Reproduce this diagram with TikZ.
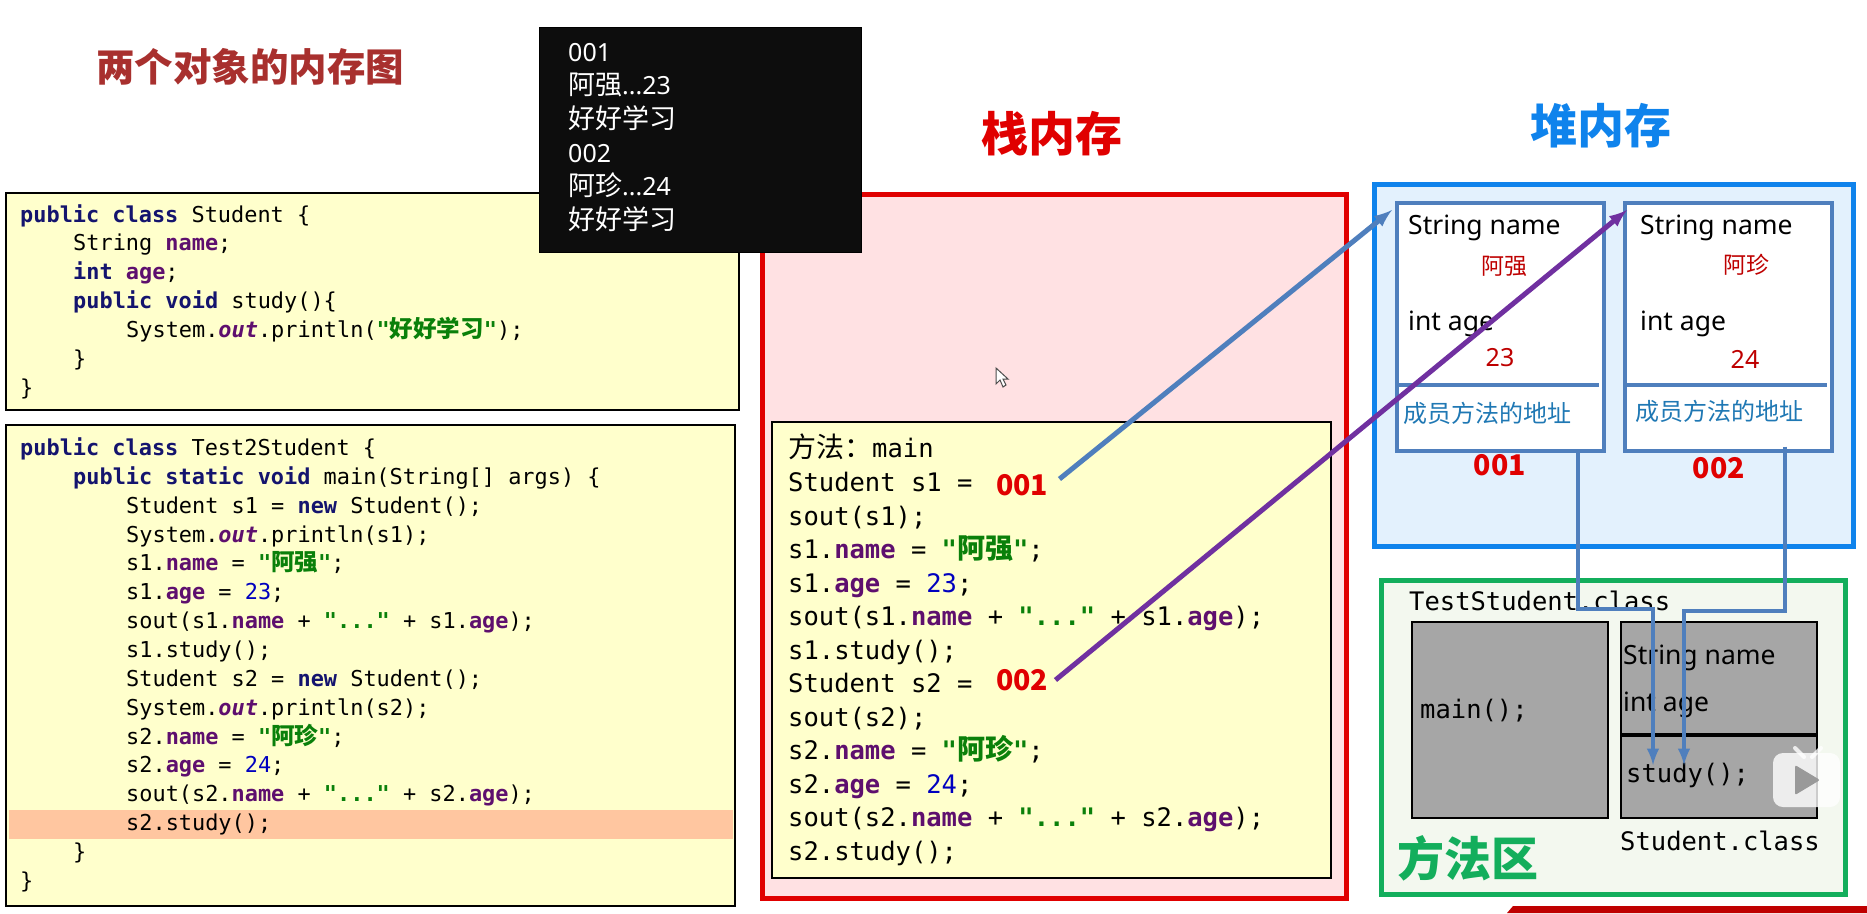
\documentclass[tikz,border=0pt]{standalone}
\usepackage{fontspec}
\setmainfont{Noto Sans}
\setmonofont{DejaVu Sans Mono}
\newfontfamily\cjk{Noto Sans CJK SC}
\definecolor{codebg}{HTML}{FFFFCC}
\definecolor{stackred}{HTML}{E00000}
\definecolor{stackbg}{HTML}{FFE1E3}
\definecolor{heapblue}{HTML}{0F83EC}
\definecolor{heapbg}{HTML}{E3F1FD}
\definecolor{areagreen}{HTML}{13AE5C}
\definecolor{areabg}{HTML}{F3F8EF}
\definecolor{linkblue}{HTML}{4F7FBD}
\definecolor{ptrpurple}{HTML}{7030A0}
\definecolor{kwdblue}{HTML}{14146E}
\definecolor{fldpurple}{HTML}{5E0F6E}
\definecolor{strgreen}{HTML}{0A800A}
\definecolor{addrblue}{HTML}{1F78B4}
\definecolor{rowmark}{HTML}{FFC6A0}
\definecolor{titlered}{HTML}{A8302E}
\newcommand\cn[2]{{\cjk\fontsize{#1}{#1}\selectfont #2}}
\newcommand\kwd[1]{{\bfseries\color{kwdblue}#1}}
\newcommand\fld[1]{{\bfseries\color{fldpurple}#1}}
\newcommand\sfd[1]{{\bfseries\itshape\color{fldpurple}#1}}
\newcommand\strg[1]{{\bfseries\color{strgreen}#1}}
\newcommand\nbr[1]{{\color{blue!75!black}#1}}
\newcommand\ind[1]{\hspace*{#1pt}}
\tikzset{
  pagetext/.style={inner sep=0pt,anchor=west},
  codesmall/.style={inner sep=0pt,anchor=north west,align=left,font=\ttfamily\fontsize{21.9}{28.85}\selectfont},
  codelarge/.style={inner sep=0pt,anchor=north west,align=left,font=\ttfamily\fontsize{25.5}{33.55}\selectfont},
  monoline/.style={inner sep=0pt,anchor=west,font=\ttfamily\fontsize{25.5}{30}\selectfont},
  codebox/.style={draw=black,line width=2pt,fill=codebg,inner sep=0pt,anchor=north west},
  objbox/.style={draw=linkblue,line width=3.5pt,fill=white,inner sep=0pt,anchor=north west,minimum width=207pt,minimum height=248pt},
  graybox/.style={draw=black,line width=2pt,fill=black!35,inner sep=0pt,anchor=north west,minimum width=196pt,minimum height=196pt},
  fieldtext/.style={pagetext,font=\fontsize{26.5}{30}\selectfont},
  valuetext/.style={inner sep=0pt,text=stackred!85!black,font=\fontsize{25}{30}\selectfont},
  addrtext/.style={pagetext,text=addrblue},
  numbig/.style={inner sep=0pt,text=stackred,font=\cjk\bfseries\fontsize{28.5}{32}\selectfont},
  linkline/.style={draw=linkblue,line width=4.5pt},
  pointer/.style={line width=5pt,-latex},
}
\begin{document}
\begin{tikzpicture}[x=1pt,y=-1pt]
\useasboundingbox (0,0) rectangle (1867,913);

\node[inner sep=0pt,text=titlered] (pagetitle) at (250,67) {\cn{38.5}{\bfseries 两个对象的内存图}};

\node[codebox,minimum width=733pt,minimum height=217pt] (classbox) at (5,192) {};
\node[codesmall] (classcode) at (20,204) {\kwd{public class} Student \{\\
\ind{53}String \fld{name};\\
\ind{53}\kwd{int} \fld{age};\\
\ind{53}\kwd{public void} study()\{\\
\ind{106}System.\sfd{out}.println(\strg{"\cn{23.5}{好好学习}"});\\
\ind{53}\}\\
\}};

\node[codebox,minimum width=729pt,minimum height=481pt] (testbox) at (5,424) {};
\fill[fill=rowmark] (9,810) rectangle (733,839);
\node[codesmall] (testcode) at (20,437.5) {\kwd{public class} Test2Student \{\\
\ind{53}\kwd{public static void} main(String[] args) \{\\
\ind{106}Student s1 = \kwd{new} Student();\\
\ind{106}System.\sfd{out}.println(s1);\\
\ind{106}s1.\fld{name} = \strg{"\cn{23.5}{阿强}"};\\
\ind{106}s1.\fld{age} = \nbr{23};\\
\ind{106}sout(s1.\fld{name} + \strg{"..."} + s1.\fld{age});\\
\ind{106}s1.study();\\
\ind{106}Student s2 = \kwd{new} Student();\\
\ind{106}System.\sfd{out}.println(s2);\\
\ind{106}s2.\fld{name} = \strg{"\cn{23.5}{阿珍}"};\\
\ind{106}s2.\fld{age} = \nbr{24};\\
\ind{106}sout(s2.\fld{name} + \strg{"..."} + s2.\fld{age});\\
\ind{106}s2.study();\\
\ind{53}\}\\
\}};

\node[draw=stackred,line width=5pt,fill=stackbg,inner sep=0pt,anchor=north west,minimum width=584pt,minimum height=704pt] (stackbox) at (760,192) {};
\node[inner sep=0pt,text=stackred] (stacktitle) at (1052,134) {\cn{47}{\bfseries 栈内存}};
\node[codebox,minimum width=559pt,minimum height=456pt] (mainbox) at (771,421) {};
\node[codelarge] (maincode) at (788,434) {\cn{28}{方法：}main\\
Student s1 =\\
sout(s1);\\
s1.\fld{name} = \strg{"\cn{28}{阿强}"};\\
s1.\fld{age} = \nbr{23};\\
sout(s1.\fld{name} + \strg{"..."} + s1.\fld{age});\\
s1.study();\\
Student s2 =\\
sout(s2);\\
s2.\fld{name} = \strg{"\cn{28}{阿珍}"};\\
s2.\fld{age} = \nbr{24};\\
sout(s2.\fld{name} + \strg{"..."} + s2.\fld{age});\\
s2.study();};
\node[numbig,anchor=west] (ptrA) at (996,485) {001};
\node[numbig,anchor=west] (ptrB) at (996,680) {002};

\node[draw=black,fill=black!95,inner sep=0pt,anchor=north west,minimum width=322pt,minimum height=225pt] (outputbox) at (539,27) {};
\node[inner sep=0pt,anchor=north west,align=left,text=white,font=\fontsize{25}{33.6}\selectfont] (outputtext) at (568,43) {001\\
\cn{27}{阿强}...23\\
\cn{27}{好好学习}\\
002\\
\cn{27}{阿珍}...24\\
\cn{27}{好好学习}};

\node[draw=heapblue,line width=5pt,fill=heapbg,inner sep=0pt,anchor=north west,minimum width=479pt,minimum height=362pt] (heapbox) at (1372,182) {};
\node[inner sep=0pt,text=heapblue] (heaptitle) at (1601,126) {\cn{47}{\bfseries 堆内存}};

\node[objbox] (objA) at (1395,201) {};
\node[objbox] (objB) at (1623,201) {};
\draw[linkblue,line width=3.5pt] (1396,385) -- (1599,385);
\draw[linkblue,line width=3.5pt] (1625,385) -- (1827,385);
\node[fieldtext] (nameA) at (1408,228) {String name};
\node[fieldtext] (ageA) at (1408,324) {int age};
\node[fieldtext] (nameB) at (1640,228) {String name};
\node[fieldtext] (ageB) at (1640,324) {int age};
\node[valuetext] (valnameA) at (1504,266) {\cn{23}{阿强}};
\node[valuetext] (valageA) at (1500,358) {23};
\node[valuetext] (valnameB) at (1746,265) {\cn{23}{阿珍}};
\node[valuetext] (valageB) at (1745,359) {24};
\node[addrtext] (addrA) at (1403,413) {\cn{24}{成员方法的地址}};
\node[addrtext] (addrB) at (1635,411) {\cn{24}{成员方法的地址}};
\node[numbig] (labelA) at (1500,465) {001};
\node[numbig] (labelB) at (1719,468) {002};

\node[draw=areagreen,line width=5pt,fill=areabg,inner sep=0pt,anchor=north west,minimum width=464pt,minimum height=314pt] (areabox) at (1379,578) {};
\node[monoline] (teststudent) at (1409,601) {TestStudent.class};
\node[graybox] (mainarea) at (1411,621) {};
\node[graybox] (classarea) at (1620,621) {};
\draw[black,line width=3.5pt] (classarea.west |- 0,735) -- (classarea.east |- 0,735);
\node[monoline] (maintext) at (1420,711) {main();};
\node[fieldtext] (grayname) at (1623,658) {String name};
\node[fieldtext] (grayage) at (1623,705) {int age};
\node[monoline] (studytext) at (1626,775) {study();};
\node[monoline] (studentclass) at (1620,841) {Student.class};
\node[inner sep=0pt,text=areagreen] (areatitle) at (1468,858) {\cn{47}{\bfseries 方法区}};

\draw[pointer,linkblue] ([shift={(11,-6)}]ptrA.east) -- ([shift={(-3,9)}]objA.north west);
\draw[pointer,ptrpurple] ([shift={(7,0)}]ptrB.east) -- ([shift={(4,9)}]objB.north west);

\coordinate (viaA) at (1578,609);
\coordinate (viaB) at (1785,611);
\coordinate (tipA) at (1653,765);
\coordinate (tipB) at (1684,765);
\draw[linkline,-latex] (objA.south -| viaA) -- (viaA) -- (viaA -| tipA) -- (tipA);
\draw[linkline,-latex] ([yshift=6pt]objB.south -| viaB) -- (viaB) -- (viaB -| tipB) -- (tipB);

\draw[white,opacity=.8,line width=4pt,line cap=round] (1795,748) -- (1804,757) (1821,748) -- (1812,757);
\fill[white,opacity=.8,rounded corners=10pt] (1773,753) rectangle (1840,807);
\fill[black!40,rounded corners=2pt] (1795,765) -- (1820,780) -- (1795,795) -- cycle;
\fill[red!75!black] (1507,913) -- (1513,906) -- (1867,906) -- (1867,913) -- cycle;
\filldraw[fill=white,draw=black!70,line width=1pt] (996,368) -- (996,384) -- (1000,380) -- (1003,387) -- (1006,385) -- (1003,379) -- (1008,379) -- cycle;
\end{tikzpicture}
\end{document}
